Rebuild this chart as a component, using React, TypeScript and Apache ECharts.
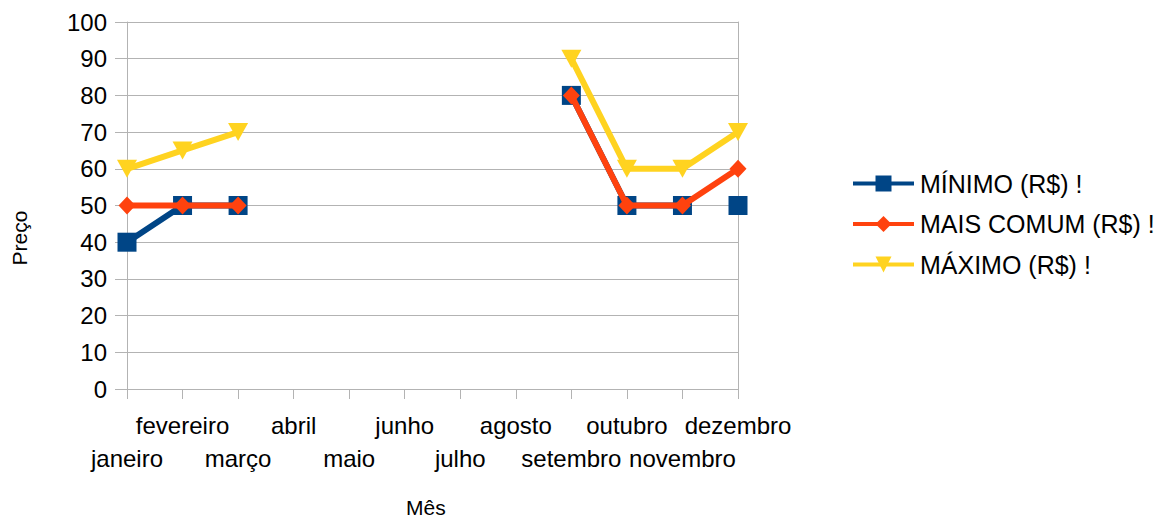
import React, { useEffect, useRef } from "react";
import * as echarts from "echarts";

const meses = [
  "janeiro", "fevereiro", "março", "abril", "maio", "junho",
  "julho", "agosto", "setembro", "outubro", "novembro", "dezembro",
];
const minimo: (number | null)[] = [40, 50, 50, null, null, null, null, null, 80, 50, 50, 50];
// indices where the MÍNIMO line is not connected to the previous point
const minimoQuebras = [11];
const maisComum: (number | null)[] = [50, 50, 50, null, null, null, null, null, 80, 50, 50, 60];
const maximo: (number | null)[] = [60, 65, 70, null, null, null, null, null, 90, 60, 60, 70];
const yTicks = [0, 10, 20, 30, 40, 50, 60, 70, 80, 90, 100];

const FONT = "'Liberation Sans', Arial, sans-serif";
const AXIS_GRAY = "#b3b3b3";

export default function App() {
  const ref = useRef<HTMLDivElement>(null);
  useEffect(() => {
    if (!ref.current) return;
    const chart = echarts.init(ref.current, undefined, { renderer: "svg" });
    const minLine = minimo.map((v, i) => (minimoQuebras.includes(i) ? null : v));
    const minIsolated = minimo.map((v, i) => (minimoQuebras.includes(i) ? v : null));
    const nameMin = "MÍNIMO (R$) !";
    const nameCom = "MAIS COMUM (R$) !";
    const nameMax = "MÁXIMO (R$) !";
    const GL = 127, GR = 434, GT = 22, GB = 130;
    chart.setOption({
      animation: false,
      backgroundColor: "#ffffff",
      textStyle: { fontFamily: FONT },
      grid: { left: GL, right: GR, top: GT, bottom: GB, containLabel: false },
      legend: {
        orient: "vertical",
        left: 846,
        top: 166,
        itemWidth: 61,
        itemHeight: 20,
        itemGap: 15.5,
        data: [nameMin, nameCom, nameMax],
        lineStyle: { width: 4 },
        textStyle: { fontFamily: FONT, fontSize: 25, color: "#000", lineHeight: 24, padding: [0, 0, 0, 1] },
      },
      xAxis: {
        type: "category",
        data: meses,
        boundaryGap: false,
        axisLine: { show: true, lineStyle: { color: AXIS_GRAY, width: 1 } },
        axisTick: { show: true, inside: false, length: 10, interval: 0, lineStyle: { color: AXIS_GRAY } },
        splitLine: { show: false, lineStyle: { opacity: 0 } },
        splitArea: { show: false },
        axisLabel: {
          interval: 0,
          margin: 20,
          fontSize: 24,
          lineHeight: 33,
          color: "#000",
          fontFamily: FONT,
          formatter: (value: string, index: number) => (index % 2 === 0 ? "\n" + value : value),
        },
      },
      yAxis: [
        {
          type: "value",
          min: yTicks[0],
          max: yTicks[yTicks.length - 1],
          interval: 10,
          axisLine: { show: true, lineStyle: { color: AXIS_GRAY } },
          axisTick: { show: true, length: 12, lineStyle: { color: AXIS_GRAY } },
          splitLine: { show: true, lineStyle: { color: AXIS_GRAY, width: 1 } },
          axisLabel: { fontSize: 24, color: "#000", margin: 20, fontFamily: FONT },
        },
        {
          type: "value",
          position: "right",
          min: yTicks[0],
          max: yTicks[yTicks.length - 1],
          interval: 10,
          axisLine: { show: true, lineStyle: { color: AXIS_GRAY } },
          axisTick: { show: false },
          splitLine: { show: false },
          axisLabel: { show: false },
        },
      ],
      graphic: [
        {
          type: "text",
          left: 406,
          top: 497,
          style: { text: "Mês", fontSize: 21, fill: "#000", fontFamily: FONT },
        },
        {
          type: "text",
          x: 19,
          y: 238,
          rotation: Math.PI / 2,
          style: {
            text: "Preço",
            fontSize: 21,
            fill: "#000",
            fontFamily: FONT,
            align: "center",
            verticalAlign: "middle",
          },
          originX: 0,
          originY: 0,
        },
      ],
      series: [
        {
          name: nameMin,
          type: "line",
          data: minLine,
          connectNulls: false,
          symbol: "rect",
          symbolSize: 19,
          showAllSymbol: true,
          lineStyle: { color: "#004586", width: 6 },
          itemStyle: { color: "#004586" },
          z: 2,
        },
        {
          name: nameMin,
          type: "line",
          data: minIsolated,
          connectNulls: false,
          symbol: "rect",
          symbolSize: 19,
          showAllSymbol: true,
          lineStyle: { color: "#004586", width: 6 },
          itemStyle: { color: "#004586" },
          z: 2,
        },
        {
          name: nameCom,
          type: "line",
          data: maisComum,
          connectNulls: false,
          symbol: "diamond",
          symbolSize: [17, 18],
          showAllSymbol: true,
          lineStyle: { color: "#ff420e", width: 6 },
          itemStyle: { color: "#ff420e" },
          z: 3,
        },
        {
          name: nameMax,
          type: "line",
          data: maximo,
          connectNulls: false,
          symbol: "triangle",
          symbolRotate: 180,
          symbolSize: [20, 18],
          showAllSymbol: true,
          lineStyle: { color: "#ffd320", width: 6 },
          itemStyle: { color: "#ffd320" },
          z: 4,
        },
      ],
    });
    return () => chart.dispose();
  }, []);
  return (
    <div
      ref={ref}
      style={{ position: "fixed", left: 0, top: 0, width: 1172, height: 519, background: "#fff" }}
    />
  );
}
